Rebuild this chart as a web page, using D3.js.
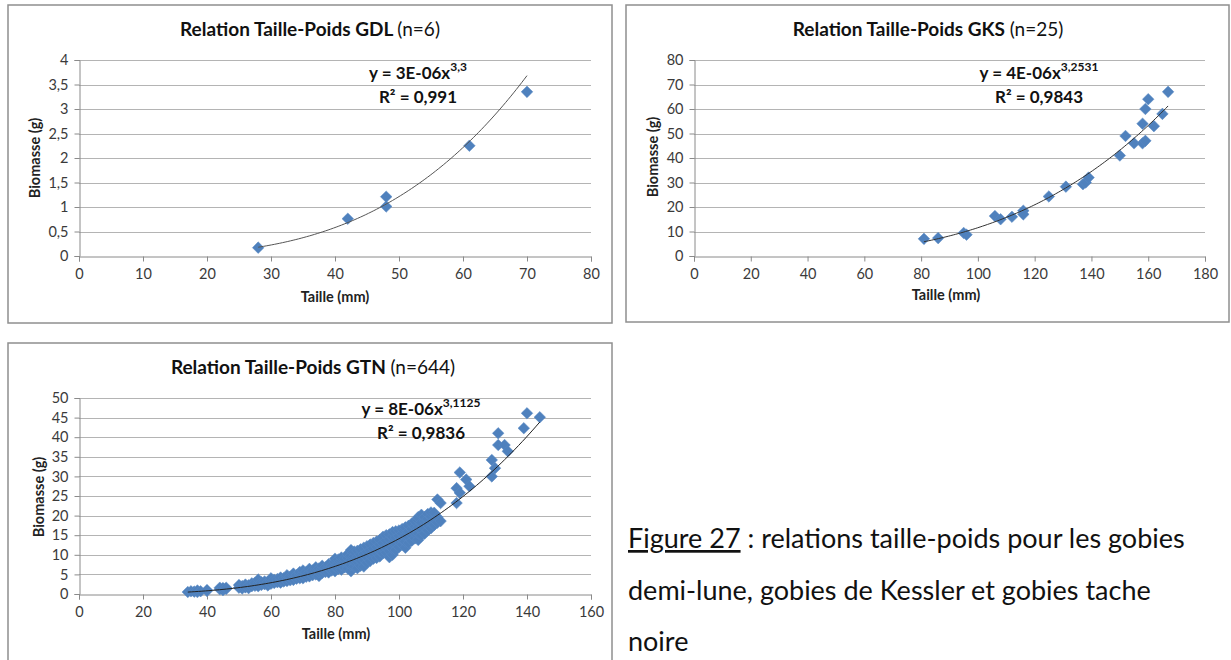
<!DOCTYPE html>
<html>
<head>
<meta charset="utf-8">
<script src="https://cdn.jsdelivr.net/npm/d3@7"></script>
<style>
  html, body { margin: 0; padding: 0; background: #fff; }
  svg { display: block; font-family: Lato, "Open Sans", sans-serif; }
</style>
</head>
<body>
<svg id="chart" width="1231" height="660"></svg>
<script>
// ---------------- DATA ----------------
// GDL (n=6)
const gdlSize = [28, 42, 48, 48, 61, 70];
const gdlMass = [0.17, 0.76, 1.21, 1.01, 2.25, 3.35];
const gdlXTicks = [0, 10, 20, 30, 40, 50, 60, 70, 80];
const gdlYTicks = [0, 0.5, 1, 1.5, 2, 2.5, 3, 3.5, 4];

// GKS (n=25)
const gksSize = [81, 86, 95, 96, 106, 108, 112, 116, 116, 125, 131, 137, 138, 139,
                 150, 152, 155, 158, 158, 159, 159, 160, 162, 165, 167];
const gksMass = [7, 7.3, 9.4, 8.7, 16.3, 15, 16, 18.5, 17, 24.3, 28.3, 29.3, 30, 32,
                 41, 49, 46, 54, 46, 47, 60, 64, 53, 58, 67];
const gksXTicks = [0, 20, 40, 60, 80, 100, 120, 140, 160, 180];
const gksYTicks = [0, 10, 20, 30, 40, 50, 60, 70, 80];

// GTN (n=644) : size (mm) with the masses (g) read at that size
const gtnBySize = [
  [34,[0.5]],[35,[0.7]],[36,[0.6]],[37,[0.5,0.9]],[38,[0.7]],[40,[0.8,1.0]],
  [44,[1.2,1.6]],[45,[1.0,1.5]],[46,[1.3,1.6]],
  [50,[1.6,2.3]],[51,[1.4,2.0]],[52,[1.7,2.4]],[53,[1.5,2.2]],[54,[2.0,2.7]],
  [55,[2.1,2.8]],[56,[2.0,2.6,3.7]],[57,[2.3,3.0]],[58,[2.5,3.2]],[59,[2.2,3.0]],
  [60,[2.6,3.4,4.0]],[61,[2.8,3.6]],[62,[3.0,3.8]],[63,[2.9,3.6,4.2]],[64,[3.2,4.0]],
  [65,[3.3,4.3,4.8]],[66,[3.5,4.4]],[67,[3.6,4.7,5.2]],[68,[3.9,4.8]],[69,[4.0,5.0,5.6]],
  [70,[4.0,5.2,6.0]],[71,[4.4,5.6]],[72,[4.5,5.5,6.4]],[73,[4.8,6.0]],[74,[5.0,6.2,6.8]],
  [75,[4.6,5.5,6.5]],[76,[5.4,6.4,7.2]],[77,[5.6,6.8]],[78,[5.5,6.7,7.6]],[79,[6.0,7.2]],
  [80,[5.8,7.0,8.2,9.0]],[81,[6.4,7.6,8.8]],[82,[6.2,7.4,8.6,9.3]],[83,[6.8,8.0,9.0]],
  [84,[6.5,7.8,9.2,10.2]],[85,[5.8,7.4,8.6,9.8,11.2]],[86,[7.0,8.4,9.6,10.8]],
  [87,[6.6,8.2,9.4,11.0]],[88,[7.2,8.6,10.0,11.4]],[89,[7.0,8.8,10.2,11.8]],
  [90,[8.0,9.4,10.8,12.2]],[91,[8.4,9.8,11.2,12.6]],[92,[9.0,10.4,11.6,13.0]],
  [93,[9.2,10.6,12.0,13.4]],[94,[9.6,11.0,12.6,13.8]],[95,[10.4,11.8,13.0,14.6]],
  [96,[10.6,12.0,13.6,15.0]],[97,[9.4,11.0,12.4,14.0,15.2]],[98,[10.0,11.6,13.0,14.6,15.8]],
  [99,[11.2,12.8,14.4,16.0]],[100,[12.0,13.4,14.8,16.2]],[101,[12.6,14.0,15.4,16.6]],
  [102,[11.8,13.4,14.8,16.4,17.0]],[103,[13.0,14.6,16.0,17.4]],[104,[13.6,15.0,16.6,18.0]],
  [105,[14.2,15.6,17.2,18.6]],[106,[13.8,15.4,17.0,18.8,19.6]],[107,[15.0,16.6,18.2,20.2]],
  [108,[15.4,17.0,18.6,19.6]],[109,[16.2,17.6,19.2,20.4]],[110,[16.8,18.2,19.8,20.8]],
  [111,[17.6,19.0,20.7]],[112,[18.2,19.6,24.1]],[113,[18.6,23.2]],
  [118,[23.2,27.0]],[119,[31.0,25.8]],[121,[29.2]],[122,[27.5]],
  [129,[34.2,30.0]],[130,[32.1]],[131,[41.0,38.0]],[133,[38.0]],[134,[36.4]],
  [139,[42.3]],[140,[46.1]],[144,[45.1]]
];
const gtnXTicks = [0, 20, 40, 60, 80, 100, 120, 140, 160];
const gtnYTicks = [0, 5, 10, 15, 20, 25, 30, 35, 40, 45, 50];

// Power trendlines y = a * x^b (a tuned to the drawn curve; labels show Excel's rounded text)
const gdlTrend = { a: 3.0e-6, b: 3.3 };
const gksTrend = { a: 3.6e-6, b: 3.2531 };
const gtnTrend = { a: 8.4e-6, b: 3.1125 };

// ---------------- DRAW ----------------
const svg = d3.select("#chart");
const fmt = v => String(v).replace(".", ",");
const diamond = r => `M0,${-r}L${r},0L0,${r}L${-r},0Z`;

// panel frames
svg.append("rect").attr("x", 8).attr("y", 5).attr("width", 604).attr("height", 318)
  .attr("fill", "none").attr("stroke", "#8f8f8f").attr("stroke-width", 1.5);
svg.append("rect").attr("x", 626).attr("y", 5).attr("width", 603).attr("height", 317)
  .attr("fill", "none").attr("stroke", "#8f8f8f").attr("stroke-width", 1.5);
svg.append("rect").attr("x", 8).attr("y", 343).attr("width", 604).attr("height", 340)
  .attr("fill", "none").attr("stroke", "#8f8f8f").attr("stroke-width", 1.5);

function panel(o) {
  const g = svg.append("g");
  const x = d3.scaleLinear().domain(o.xDomain).range([o.left, o.right]);
  const y = d3.scaleLinear().domain(o.yDomain).range([o.bottom, o.top]);

  // gridlines
  g.selectAll(".grid").data(o.yTicks.filter(t => t !== 0)).join("line")
    .attr("x1", o.left).attr("x2", o.right)
    .attr("y1", d => Math.round(y(d)) + 0.5).attr("y2", d => Math.round(y(d)) + 0.5)
    .attr("stroke", "#b4b4b4").attr("stroke-width", 1);

  // axes
  const ya = d3.axisLeft(y).tickValues(o.yTicks).tickFormat(fmt).tickSize(5).tickPadding(6);
  const xa = d3.axisBottom(x).tickValues(o.xTicks).tickFormat(fmt).tickSize(5).tickPadding(7);
  const gy = g.append("g").attr("transform", `translate(${Math.round(o.left) + 0.5},0)`).call(ya);
  const gx = g.append("g").attr("transform", `translate(0,${Math.round(o.bottom) + 0.5})`).call(xa);
  [gx, gy].forEach(a => {
    a.select(".domain").attr("stroke", "#8a8a8a");
    a.selectAll(".tick line").attr("stroke", "#8a8a8a");
    a.selectAll(".tick text").attr("fill", "#3a3a3a").attr("font-size", 14.5)
      .attr("font-family", "Lato, 'Open Sans', sans-serif");
  });

  // title
  const t = g.append("text").attr("x", o.titleX).attr("y", o.titleY)
    .attr("text-anchor", "middle").attr("dominant-baseline", "middle")
    .attr("font-size", 19).attr("fill", "#111");
  t.append("tspan").attr("font-weight", "bold").text(o.title + " ");
  t.append("tspan").text(o.titleN);

  // axis titles
  g.append("text").attr("x", o.xTitleX).attr("y", o.xTitleY)
    .attr("text-anchor", "middle").attr("dominant-baseline", "middle")
    .attr("font-size", 14.5).attr("font-weight", "bold").attr("fill", "#222")
    .text("Taille (mm)");
  g.append("text").attr("transform", `translate(${o.yTitleX},${o.yTitleY}) rotate(-90)`)
    .attr("text-anchor", "middle").attr("dominant-baseline", "middle")
    .attr("font-size", 14.5).attr("font-weight", "bold").attr("fill", "#222")
    .text("Biomasse (g)");

  // points
  g.selectAll(".pt").data(o.points).join("path")
    .attr("transform", d => `translate(${x(d[0])},${y(d[1])})`)
    .attr("d", diamond(5.8))
    .attr("fill", "#4f81bd").attr("stroke", "#5a8ac4").attr("stroke-width", 0.5);

  // trendline
  const xs = o.points.map(d => d[0]);
  const x0 = d3.min(xs), x1 = d3.max(xs);
  const curve = d3.range(0, 101).map(i => {
    const xv = x0 + (x1 - x0) * i / 100;
    return [xv, o.trend.a * Math.pow(xv, o.trend.b)];
  });
  g.append("path").datum(curve)
    .attr("d", d3.line().x(d => x(d[0])).y(d => y(d[1])))
    .attr("fill", "none").attr("stroke", o.trendColor).attr("stroke-width", 1);

  // equation
  const e1 = g.append("text").attr("x", o.eqX).attr("y", o.eqY)
    .attr("text-anchor", "middle").attr("dominant-baseline", "middle")
    .attr("font-size", 17).attr("font-weight", "bold").attr("fill", "#111");
  e1.append("tspan").text(o.eqA);
  e1.append("tspan").attr("font-size", 12).attr("dy", -7).text(o.eqB);
  g.append("text").attr("x", o.eqX).attr("y", o.eqY + 24)
    .attr("text-anchor", "middle").attr("dominant-baseline", "middle")
    .attr("font-size", 17).attr("font-weight", "bold").attr("fill", "#111")
    .text(o.r2);
}

panel({
  xDomain: [0, 80], yDomain: [0, 4], left: 79, right: 591, top: 60, bottom: 256,
  xTicks: gdlXTicks, yTicks: gdlYTicks,
  points: gdlSize.map((s, i) => [s, gdlMass[i]]),
  trend: gdlTrend, trendColor: "#555",
  title: "Relation Taille-Poids GDL", titleN: "(n=6)", titleX: 310, titleY: 31,
  xTitleX: 335, xTitleY: 298, yTitleX: 36, yTitleY: 158,
  eqX: 418, eqY: 75, eqA: "y = 3E-06x", eqB: "3,3", r2: "R² = 0,991"
});

panel({
  xDomain: [0, 180], yDomain: [0, 80], left: 694, right: 1205, top: 60, bottom: 256,
  xTicks: gksXTicks, yTicks: gksYTicks,
  points: gksSize.map((s, i) => [s, gksMass[i]]),
  trend: gksTrend, trendColor: "#333",
  title: "Relation Taille-Poids GKS", titleN: "(n=25)", titleX: 928, titleY: 31,
  xTitleX: 946, xTitleY: 296, yTitleX: 654, yTitleY: 157,
  eqX: 1039, eqY: 75, eqA: "y = 4E-06x", eqB: "3,2531", r2: "R² = 0,9843"
});

panel({
  xDomain: [0, 160], yDomain: [0, 50], left: 79, right: 591, top: 398, bottom: 594,
  xTicks: gtnXTicks, yTicks: gtnYTicks,
  points: gtnBySize.flatMap(([s, ms]) => ms.map(m => [s, m])),
  trend: gtnTrend, trendColor: "#222",
  title: "Relation Taille-Poids GTN", titleN: "(n=644)", titleX: 313, titleY: 369,
  xTitleX: 336, xTitleY: 635, yTitleX: 40, yTitleY: 497,
  eqX: 421, eqY: 411, eqA: "y = 8E-06x", eqB: "3,1125", r2: "R² = 0,9836"
});

// caption
const cap = svg.append("g").attr("font-size", 27).attr("fill", "#111")
  .attr("font-family", "Lato, 'Open Sans', sans-serif");
const l1 = cap.append("text").attr("x", 628).attr("y", 548);
l1.append("tspan").attr("text-decoration", "underline").text("Figure 27");
l1.append("tspan").text(" : relations taille-poids pour les gobies");
cap.append("text").attr("x", 628).attr("y", 600).text("demi-lune, gobies de Kessler et gobies tache");
cap.append("text").attr("x", 628).attr("y", 651).text("noire");
</script>
</body>
</html>
